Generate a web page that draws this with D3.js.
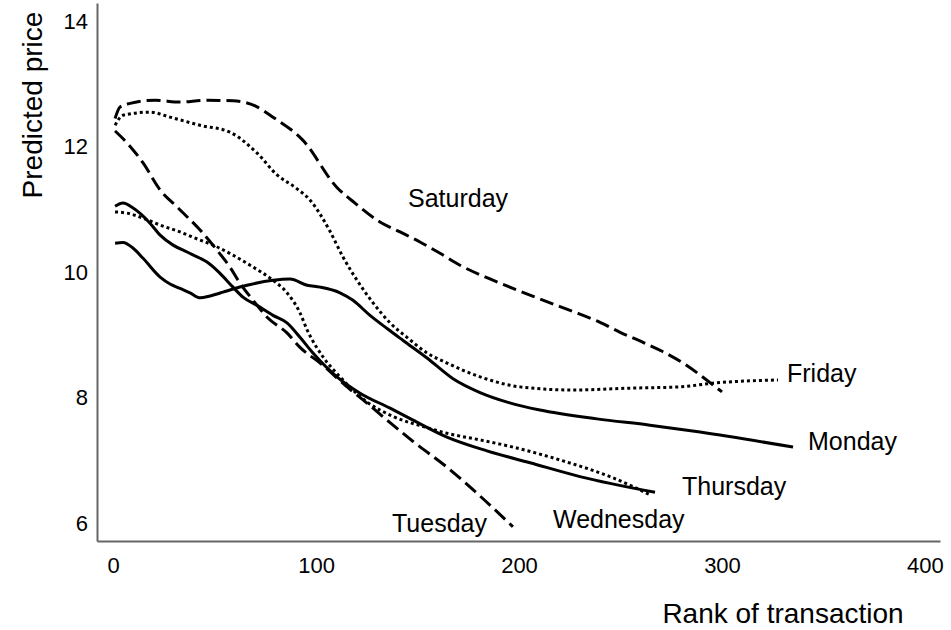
<!DOCTYPE html>
<html>
<head>
<meta charset="utf-8">
<script src="https://cdn.jsdelivr.net/npm/d3@7"></script>
<style>
  body { margin: 0; background: #fff; }
  text { font-family: Arial, "Liberation Sans", sans-serif; fill: #000; }
</style>
</head>
<body>
<svg id="chart" width="951" height="630"></svg>
<script>
// [rank, predicted price]
const monday = [[1,10.46],[4.9,10.47],[9.9,10.38],[14.8,10.22],[23.2,9.92],[28.1,9.81],[33,9.74],[37.9,9.67],[42.9,9.59],[47.8,9.62],[54.2,9.68],[59.1,9.73],[66,9.79],[78.8,9.87],[87.2,9.89],[95.6,9.79],[102,9.76],[111.8,9.67],[118.2,9.55],[126.6,9.31],[135,9.1],[142.9,8.91],[154.7,8.63],[167.5,8.3],[180.8,8.08],[195,7.92],[210.3,7.8],[238.4,7.66],[264.5,7.56],[289.2,7.45],[335,7.21]];
const tuesday = [[1,12.25],[6.9,12.06],[14.8,11.74],[23.2,11.31],[31.5,11.04],[42.9,10.67],[51.2,10.35],[57.6,10.08],[62.6,9.82],[69,9.55],[75.9,9.28],[85.7,9.03],[92.1,8.8],[102,8.55],[115.3,8.17],[125.1,7.91],[135,7.64],[147.8,7.3],[164.5,6.89],[180.8,6.43],[197,5.94]];
const wednesday = [[1,10.96],[6.9,10.94],[14.8,10.86],[23.2,10.75],[33,10.64],[42.9,10.51],[49.3,10.43],[59.1,10.27],[69,10.08],[78.8,9.87],[85.7,9.67],[92.1,9.35],[95.6,9.08],[103.4,8.65],[111.8,8.33],[125.1,7.93],[137.9,7.7],[154.7,7.52],[164.5,7.43],[180,7.33],[197,7.21],[221.7,6.99],[246.3,6.72],[264.5,6.45]];
const thursday = [[1,11.05],[4.9,11.1],[9.9,11.02],[18.2,10.78],[23.2,10.59],[29.6,10.43],[36.5,10.32],[42.9,10.22],[46.3,10.16],[52.7,9.98],[59.1,9.76],[64,9.6],[70.9,9.47],[78.8,9.31],[85.7,9.19],[92.1,8.96],[98.5,8.71],[110.3,8.33],[121.7,8.07],[136.5,7.83],[147.8,7.64],[164.5,7.37],[184.2,7.15],[205.4,6.96],[230,6.74],[267,6.49]];
const friday = [[1,12.34],[4.9,12.5],[18.2,12.55],[28.1,12.47],[42.9,12.34],[57.6,12.23],[70.9,11.9],[80.8,11.55],[89.7,11.35],[97,11.15],[106.9,10.65],[113.3,10.24],[120.2,9.87],[128.1,9.51],[136.5,9.19],[144.8,8.96],[154.7,8.71],[164.5,8.55],[180.8,8.33],[200.5,8.17],[226.6,8.12],[254.7,8.15],[279.3,8.17],[295.6,8.23],[327.6,8.28]];
const saturday = [[1,12.45],[3.4,12.63],[8.4,12.69],[20.7,12.74],[33,12.71],[45.3,12.74],[59.1,12.73],[70,12.65],[78.8,12.47],[93.6,12.1],[110.3,11.35],[119.2,11.1],[131.5,10.8],[141.4,10.64],[151.2,10.48],[161.1,10.3],[170.9,10.11],[185.7,9.89],[197,9.74],[208.9,9.59],[220.2,9.45],[230,9.33],[239.9,9.2],[249.8,9.04],[261.1,8.88],[271,8.73],[280.8,8.55],[289.2,8.36],[295.6,8.2],[300,8.09]];

const dayNames = ["Monday", "Tuesday", "Wednesday", "Thursday", "Friday", "Saturday"];
const xTicks = [0, 100, 200, 300, 400];
const yTicks = [6, 8, 10, 12, 14];

const svg = d3.select("#chart");

const x = d3.scaleLinear().domain([-7.9, 407.4]).range([97, 940]);
const y = d3.scaleLinear().domain([5.713, 14.29]).range([541, 3]);

const seriesData = {
  Monday: monday, Tuesday: tuesday, Wednesday: wednesday,
  Thursday: thursday, Friday: friday, Saturday: saturday
};
const dashes = {
  Monday: null, Thursday: null,
  Tuesday: "14,6", Saturday: "14,6",
  Wednesday: "3,3", Friday: "3,3"
};
// where each name sits (left x, baseline y) in pixels
const labelAt = {
  Saturday: [408, 207], Friday: [787, 382], Monday: [808, 450],
  Thursday: [682, 495], Wednesday: [553, 528], Tuesday: [392, 532]
};

// axes, no tick marks
const yAxis = svg.append("g")
  .attr("transform", `translate(${x.range()[0]},0)`)
  .call(d3.axisLeft(y).tickValues(yTicks).tickSize(0).tickPadding(9));
const xAxis = svg.append("g")
  .attr("transform", `translate(0,${y.range()[0]})`)
  .call(d3.axisBottom(x).tickValues(xTicks).tickSize(0).tickPadding(16));

[yAxis, xAxis].forEach(g => {
  g.select(".domain").attr("stroke", "#666").attr("stroke-width", 2);
  g.selectAll("text").style("font-size", "22px").style("font-family", "Arial, 'Liberation Sans', sans-serif").attr("fill", "#000");
});

const line = d3.line()
  .x(d => x(d[0]))
  .y(d => y(d[1]))
  .curve(d3.curveMonotoneX);

dayNames.forEach(name => {
  svg.append("path")
    .datum(seriesData[name])
    .attr("fill", "none")
    .attr("stroke", "#000")
    .attr("stroke-width", 3)
    .attr("stroke-dasharray", dashes[name])
    .attr("d", line);

  svg.append("text")
    .attr("x", labelAt[name][0])
    .attr("y", labelAt[name][1])
    .style("font-size", "25px")
    .text(name);
});

// titles
svg.append("text")
  .attr("x", 783)
  .attr("y", 623)
  .attr("text-anchor", "middle")
  .style("font-size", "28px")
  .text("Rank of transaction");

svg.append("text")
  .attr("transform", "translate(42,105) rotate(-90)")
  .attr("text-anchor", "middle")
  .style("font-size", "28px")
  .text("Predicted price");
</script>
</body>
</html>
